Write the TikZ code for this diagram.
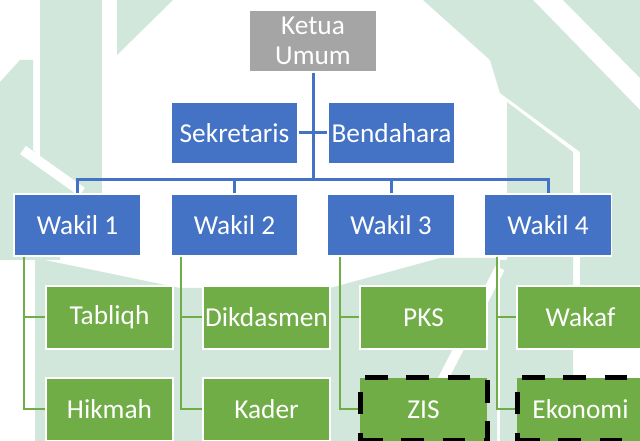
\documentclass[tikz,border=0pt]{standalone}
\usepackage{fontspec}
\setmainfont{Carlito}
\usetikzlibrary{calc}
\definecolor{ogblue}{HTML}{4472C4}
\definecolor{oggreen}{HTML}{70AD47}
\definecolor{oggray}{HTML}{A5A5A5}
\definecolor{wm}{HTML}{D2E7DB}
\begin{document}
\begin{tikzpicture}[x=0.75pt,y=-0.75pt,
  box/.style={rectangle, draw=white, line width=1pt, minimum width=95.25pt,
    minimum height=46.5pt, inner sep=0pt, text=white,
    font=\fontsize{20.5}{22.5}\selectfont, align=center},
  graybox/.style={box, fill=oggray},
  bluebox/.style={box, fill=ogblue},
  greenbox/.style={box, fill=oggreen, minimum height=47.25pt},
  dashbox/.style={draw=black, line width=3.75pt, dash pattern=on 17pt off 14pt},
  bline/.style={draw=ogblue, line width=2.25pt},
  gline/.style={draw=oggreen, line width=1.5pt},
  wmark/.style={fill=wm, draw=none},
  wgap/.style={draw=white, line width=7.5pt}]
\useasboundingbox (0,0) rectangle (640,441);
\clip (0,0) rectangle (640,441);
\fill[white] (0,0) rectangle (640,441);
% faint watermark in the background
\fill[wmark] (40,0) -- (102,0) -- (102,210) -- (40,210) -- cycle;
\fill[wmark] (117,0) -- (173,0) -- (117,55) -- cycle;
\fill[wmark] (0,82) -- (20,60) -- (33,60) -- (33,150) -- (60,180) -- (60,260) -- (0,260) -- cycle;
\draw[wgap] (23,150) -- (82,192);
\fill[wmark] (423,0) -- (533,0) -- (640,110) -- (640,300) -- (580,300) -- (580,152) -- (500,93) -- (490,60) -- cycle;
\fill[wmark] (563,0) -- (640,0) -- (640,78) -- cycle;
\fill[wmark] (507,102) -- (573,152) -- (573,441) -- (500,441) -- (500,260) -- (507,260) -- cycle;
\fill[wmark] (35,258) -- (180,288) -- (330,288) -- (440,258) -- (497,258) -- (497,441) -- (35,441) -- cycle;
\draw[wgap] (500,268) -- (440,385);
% nodes
\node[graybox] (ketua) at (313,41) {Ketua\\Umum};
\node[bluebox] (sek) at (234.5,133) {Sekretaris};
\node[bluebox] (ben) at (391.5,133) {Bendahara};
\node[bluebox] (w1) at (77.5,225) {Wakil 1};
\node[bluebox] (w2) at (234.5,225) {Wakil 2};
\node[bluebox] (w3) at (391,225) {Wakil 3};
\node[bluebox] (w4) at (548,225) {Wakil 4};
\node[greenbox] (tab) at (109.5,317.5) {Tabliqh};
\node[greenbox] (dik) at (266.5,317.5) {Dikdasmen};
\node[greenbox] (pks) at (423.5,317.5) {PKS};
\node[greenbox] (wak) at (580.5,317.5) {Wakaf};
\node[greenbox] (hik) at (109.5,409.5) {Hikmah};
\node[greenbox] (kad) at (266.5,409.5) {Kader};
\node[greenbox, dashbox] (zis) at (423.5,409.5) {ZIS};
\node[greenbox, dashbox] (eko) at (580.5,409.5) {Ekonomi};
% blue connectors
\coordinate (bus) at (313,180);
\draw[bline] (ketua.south) -- (bus);
\draw[bline] (sek.east) -- (ben.west);
\draw[bline] (w1.north) |- (bus) -| (w4.north);
\draw[bline] (w2.north) -- (w2.north |- bus);
\draw[bline] (w3.north) -- (w3.north |- bus);
% green connectors
\coordinate (g1) at ($(w1.south west)+(11,0)$);
\coordinate (g2) at ($(w2.south west)+(11,0)$);
\coordinate (g3) at ($(w3.south west)+(13,0)$);
\coordinate (g4) at ($(w4.south west)+(13,0)$);
\draw[gline] (g1) |- (tab.west);
\draw[gline] (g1) |- (hik.west);
\draw[gline] (g2) |- (dik.west);
\draw[gline] (g2) |- (kad.west);
\draw[gline] (g3) |- (pks.west);
\draw[gline] (g3) |- (zis.west);
\draw[gline] (g4) |- (wak.west);
\draw[gline] (g4) |- (eko.west);
\end{tikzpicture}
\end{document}
